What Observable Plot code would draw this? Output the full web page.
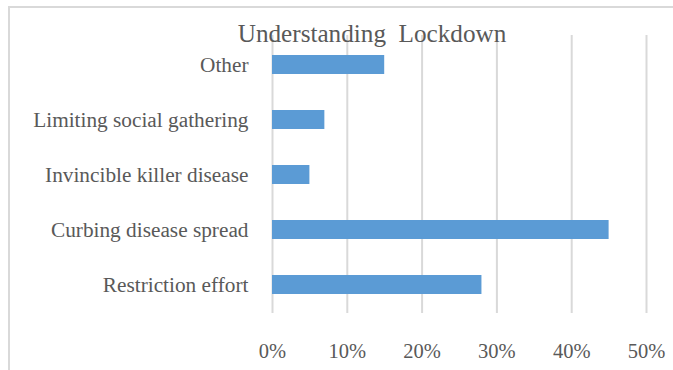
<!DOCTYPE html>
<html>
<head>
<meta charset="utf-8">
<script src="https://cdn.jsdelivr.net/npm/d3@7"></script>
<script src="https://cdn.jsdelivr.net/npm/@observablehq/plot@0.6"></script>
<style>
  html, body { margin: 0; padding: 0; background: #fff; }
  #wrap { position: relative; width: 673px; height: 370px; overflow: hidden; }
  #border { position: absolute; left: 8px; top: 6px; width: 700px; height: 400px;
            border-top: 2px solid #d9d9d9; border-left: 2px solid #d9d9d9; pointer-events: none; }
  svg { display: block; }
  svg text { font-family: 'Liberation Serif', 'Times New Roman', serif !important; }
</style>
</head>
<body>
<div id="wrap"><div id="border"></div></div>
<script>
const title = "Understanding\u00a0\u00a0Lockdown";
const categories = ["Restriction effort", "Curbing disease spread", "Invincible killer disease", "Limiting social gathering", "Other"];
const values = [0.28, 0.45, 0.05, 0.07, 0.15];
const tickValues = [0, 0.1, 0.2, 0.3, 0.4, 0.5];
const tickLabels = ["0%", "10%", "20%", "30%", "40%", "50%"];

const data = categories.map((c, i) => ({category: c, value: values[i]}));
const font = "'Liberation Serif', 'Times New Roman', serif";
const textColor = "#595959";
const fmt = (d) => tickLabels[tickValues.findIndex(t => Math.abs(t - d) < 1e-9)];

const chart = Plot.plot({
  width: 673,
  height: 370,
  marginLeft: 272,
  marginRight: 27,
  marginTop: 35,
  marginBottom: 57,
  style: {fontFamily: font, fontSize: "20.5px", color: textColor, background: "transparent", overflow: "visible"},
  x: {domain: [0, 0.5], ticks: tickValues, tickFormat: fmt},
  y: {domain: categories.slice().reverse(), paddingInner: 0.66, paddingOuter: 0.33},
  marks: [
    Plot.gridX(tickValues, {stroke: "#d9d9d9", strokeOpacity: 1, strokeWidth: 2}),
    Plot.barX(data, {x: "value", y: "category", fill: "#5B9BD5"}),
    Plot.axisX({ticks: tickValues, tickSize: 0, tickPadding: 30, label: null, fill: textColor, fontSize: 20.5, tickFormat: fmt}),
    Plot.axisY({tickSize: 0, tickPadding: 24, label: null, fill: textColor, fontSize: 21.3}),
    Plot.text([title], {frameAnchor: "top", dx: -87.5, dy: -1.7, lineAnchor: "middle", text: d => d, fontSize: 25.2, fill: textColor})
  ]
});
document.getElementById("wrap").insertBefore(chart, document.getElementById("border"));
</script>
</body>
</html>
